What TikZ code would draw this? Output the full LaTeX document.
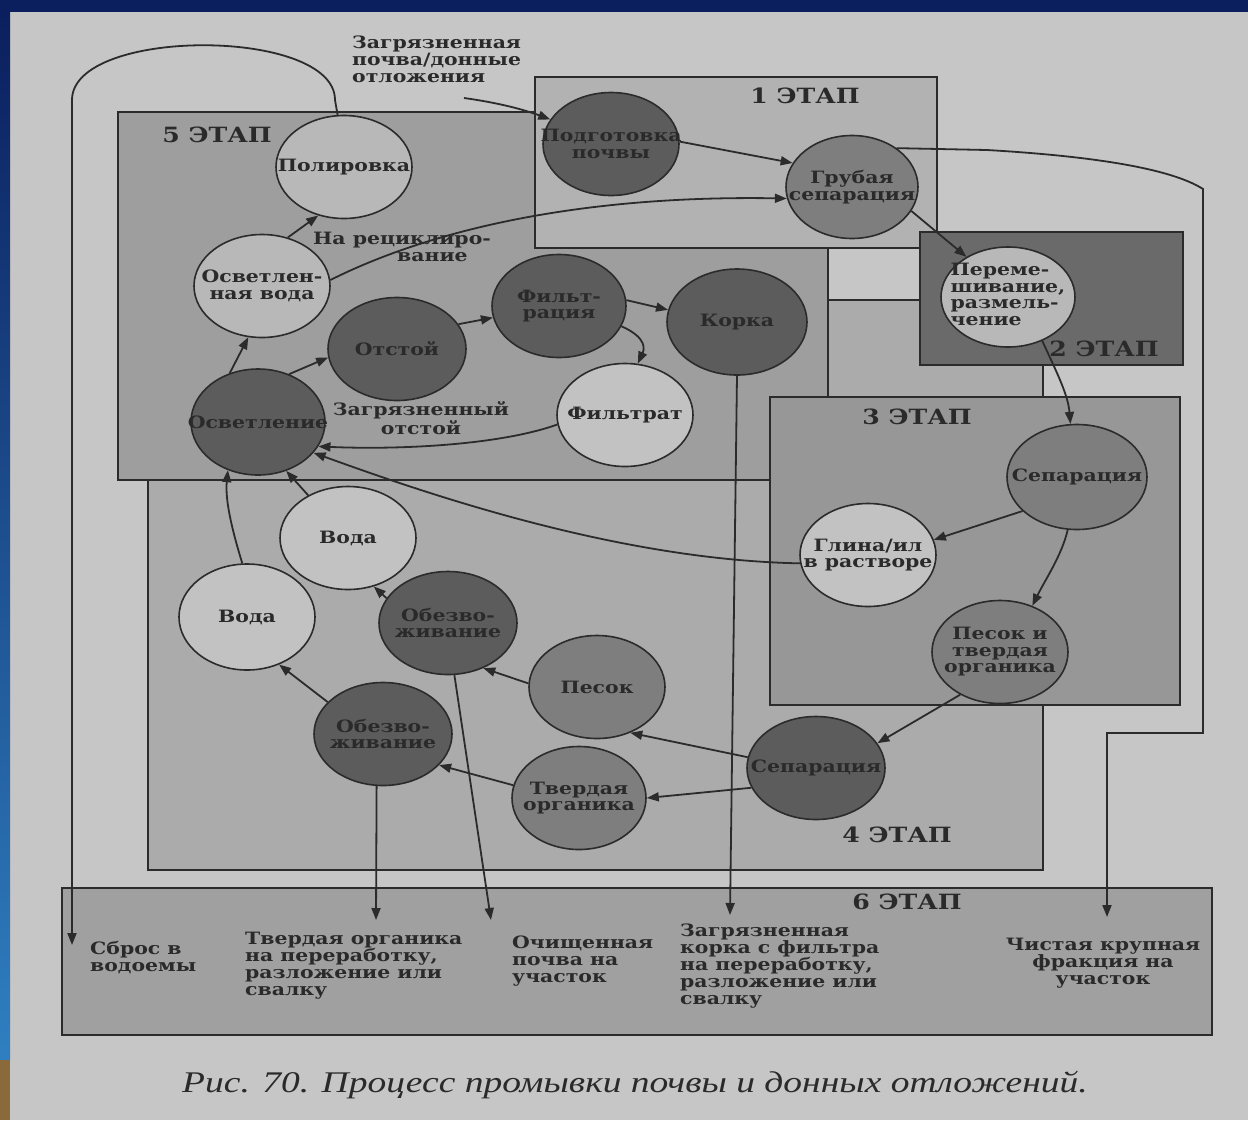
\documentclass[tikz,border=0pt]{standalone}
\usepackage{fontspec}
\setmainfont{DejaVu Serif}[FakeStretch=1.2]
\newfontfamily\capfont{Liberation Serif}[FakeStretch=1.25]
\usetikzlibrary{shapes.geometric,arrows.meta}
\definecolor{paper}{HTML}{C6C6C6}
\definecolor{navy}{HTML}{0B1F5E}
\definecolor{blueb}{HTML}{2F7FC0}
\definecolor{brownb}{HTML}{8A6A3A}
\definecolor{lc}{HTML}{2B2B2B}
\definecolor{tc}{HTML}{2A2A2A}
\definecolor{bfour}{HTML}{ABABAB}
\definecolor{bfive}{HTML}{9E9E9E}
\definecolor{bone}{HTML}{B2B2B2}
\definecolor{btwo}{HTML}{6A6A6A}
\definecolor{bthree}{HTML}{979797}
\definecolor{bsix}{HTML}{A0A0A0}
\definecolor{ndark}{HTML}{5C5C5C}
\definecolor{nmid}{HTML}{7E7E7E}
\definecolor{nlight}{HTML}{B8B8B8}
\definecolor{nvlight}{HTML}{C2C2C2}
\tikzset{
  nd/.style={ellipse, draw=lc, line width=1.6pt, inner sep=0pt,
    minimum width=136pt, minimum height=103pt},
  ndtext/.style={inner sep=0pt, font=\bfseries\fontsize{17}{16.5}\selectfont, text=tc, align=center},
  arr/.style={draw=lc, line width=1.8pt, -{Triangle[length=12pt,width=9pt]}},
  stg/.style={font=\bfseries\fontsize{21}{22}\selectfont, text=tc, inner sep=0pt},
  stagebox/.style={draw=lc, line width=2.2pt},
  lbl/.style={font=\bfseries\fontsize{17}{17}\selectfont, text=tc, inner sep=0pt, align=left},
}
% ellipse of fixed size, with its text as a separate node on top
\newcommand\mkell[4]{\node[nd,#3] (#1) at (#2) {};\node[ndtext] (#1t) at (#1.center) {#4};}
\begin{document}
\begin{tikzpicture}[x=1pt,y=-1pt]
\useasboundingbox (0,0) rectangle (1248,1120);
\fill[paper] (0,0) rectangle (1248,1120);
\fill[navy] (0,0) rectangle (1248,12);
\shade[top color=navy, bottom color=blueb] (0,12) rectangle (10,1060);
\fill[brownb] (0,1060) rectangle (10,1120);

% stage boxes
\filldraw[stagebox, fill=bfour] (148,300) rectangle (1043,870);
\filldraw[stagebox, fill=bfive] (118,112) rectangle (828,480);
\filldraw[stagebox, fill=bone] (535,77) rectangle (937,248);
\filldraw[stagebox, fill=btwo] (920,232) rectangle (1183,365);
\filldraw[stagebox, fill=bthree] (770,397) rectangle (1180,705);
\filldraw[stagebox, fill=bsix] (62,888) rectangle (1212,1035);

\node[stg] (s1) at (805,96) {1 ЭТАП};
\node[stg] (s2) at (1104,349) {2 ЭТАП};
\node[stg] (s3) at (917,417) {3 ЭТАП};
\node[stg] (s4) at (897,835) {4 ЭТАП};
\node[stg] (s5) at (217,135) {5 ЭТАП};
\node[stg] (s6) at (907,902) {6 ЭТАП};

% nodes
\mkell{podg}{611,144}{fill=ndark}{Подготовка\\почвы}
\mkell{grub}{852,187}{fill=nmid, minimum width=132pt}{Грубая\\сепарация}
\mkell{perem}{1008,297}{fill=nlight, minimum width=134pt, minimum height=100pt}{\begin{tabular}{@{}l@{}}Переме-\\шивание,\\размель-\\чение\end{tabular}}
\mkell{sepa}{1077,477}{fill=nmid, minimum width=140pt, minimum height=105pt}{Сепарация}
\mkell{glina}{868,555}{fill=nvlight}{Глина/ил\\в растворе}
\mkell{pesoktv}{1000,652}{fill=nmid}{Песок и\\твердая\\органика}
\mkell{sepb}{816,768}{fill=ndark, minimum width=138pt}{Сепарация}
\mkell{pesok}{597,687}{fill=nmid}{Песок}
\mkell{tverd}{579,798}{fill=nmid, minimum width=134pt}{Твердая\\органика}
\mkell{obezvlo}{383,734}{fill=ndark, minimum width=138pt}{Обезво-\\живание}
\mkell{obezvup}{448,623}{fill=ndark, minimum width=138pt}{Обезво-\\живание}
\mkell{vodaup}{348,538}{fill=nvlight}{Вода}
\mkell{vodalo}{247,617}{fill=nvlight, minimum height=106pt}{Вода}
\mkell{osvetl}{258,422}{fill=ndark, minimum width=134pt, minimum height=106pt}{Осветление}
\mkell{otstoy}{397,349}{fill=ndark, minimum width=138pt}{Отстой}
\mkell{osvvoda}{262,286}{fill=nlight}{Осветлен-\\ная вода}
\mkell{polir}{344,167}{fill=nlight}{Полировка}
\mkell{filtr}{559,306}{fill=ndark, minimum width=134pt}{Фильт-\\рация}
\mkell{korka}{737,322}{fill=ndark, minimum width=140pt, minimum height=106pt}{Корка}
\mkell{filtrat}{625,415}{fill=nvlight}{Фильтрат}

% free texts
\node[lbl, anchor=north west] (src) at (352,36) {Загрязненная\\почва/донные\\отложения};
\node[lbl, anchor=north west] (recyc) at (313,232) {На рециклиро-\\\hspace*{84pt}вание};
\node[lbl, align=center] (zotst) at (421,418) {Загрязненный\\отстой};

\node[lbl, anchor=north west] (t1) at (90,941) {Сброс в\\водоемы};
\node[lbl, anchor=north west] (t2) at (245,932) {Твердая органика\\на переработку,\\разложение или\\свалку};
\node[lbl, anchor=north west] (t3) at (512,936) {Очищенная\\почва на\\участок};
\node[lbl, anchor=north west] (t4) at (680,924) {Загрязненная\\корка с фильтра\\на переработку,\\разложение или\\свалку};
\node[lbl, align=center] (t5) at (1103,963) {Чистая крупная\\фракция на\\участок};

\node[font=\capfont\itshape\fontsize{30}{32}\selectfont, text=tc] (cap) at (635,1085) {Рис. 70. Процесс промывки почвы и донных отложений.};

% free ends
\coordinate (srcend) at (464,98);
\coordinate (e1) at (72,945);
\coordinate (e2) at (376,920);
\coordinate (e3) at (491,920);
\coordinate (e4) at (730,915);
\coordinate (e5) at (1107,917);

% connectors
\draw[arr] (srcend) .. controls (500,103) and (525,110) .. (podg.158);
\draw[arr] (podg.2) -- (grub.158);
\draw[arr] (grub.-22) -- (perem.136);
\draw[arr] (perem.-52) .. controls (1058,375) and (1068,395) .. (sepa.97);
\draw[arr] (sepa.212) -- (glina.13);
\draw[arr] (sepa.260) .. controls (1062,555) and (1045,580) .. (pesoktv.55);
\draw[arr] (pesoktv.227) -- (sepb.22);
\draw[arr] (sepb.171) -- (pesok.-54);
\draw[arr] (sepb.197) -- (tverd.0);
\draw[arr] (pesok.177) -- (obezvup.-52);
\draw[arr] (tverd.169) -- (obezvlo.-29);
\draw[arr] (obezvlo.150) -- (vodalo.-56);
\draw[arr] (obezvup.158) -- (vodaup.-62);
\draw[arr] (vodaup.133) -- (osvetl.-60);
\draw[arr] (vodalo.95) .. controls (232,530) and (225,500) .. (osvetl.238);
\draw[arr] (glina.187) .. controls (620,560) and (430,495) .. (osvetl.-29);
\draw[arr] (filtrat.188) .. controls (500,445) and (400,450) .. (osvetl.-22);
\draw[arr] (osvetl.120) -- (osvvoda.255);
\draw[arr] (osvetl.57) -- (otstoy.187);
\draw[arr] (otstoy.22) -- (filtr.190);
\draw[arr] (filtr.5) -- (korka.170);
\draw[arr] (filtr.-18) .. controls (648,338) and (644,350) .. (filtrat.76);
\draw[arr] (osvvoda.62) -- (polir.242);
\draw[arr] (osvvoda.5) .. controls (430,230) and (580,195) .. (grub.190);
\draw[arr] (polir.97) -- (335,100) .. controls (335,27) and (72,27) .. (72,100) -- (e1);
\draw[arr] (korka.-90) -- (e4);
\draw[arr] (obezvlo.-97) -- (e2);
\draw[arr] (obezvup.-83) -- (e3);
\draw[arr] (grub.41) -- (987,150) .. controls (1090,156) and (1170,168) .. (1203,189) -- (1203,733) -- (1107,733) -- (e5);
\end{tikzpicture}
\end{document}
